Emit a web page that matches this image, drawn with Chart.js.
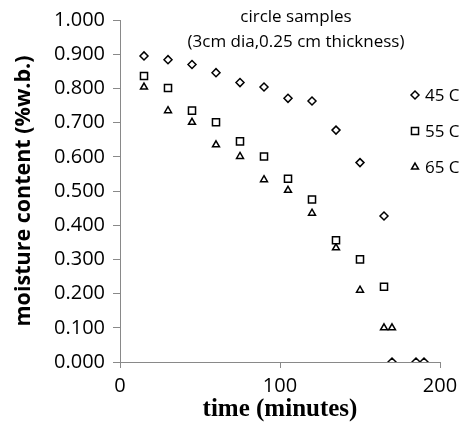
<!DOCTYPE html>
<html>
<head>
<meta charset="utf-8">
<script src="https://cdn.jsdelivr.net/npm/chart.js@4/dist/chart.umd.min.js"></script>
<style>
  html, body { margin: 0; padding: 0; background: #ffffff; }
  #wrap { position: relative; width: 468px; height: 440px; }
</style>
</head>
<body>
<div id="wrap"><canvas id="c" width="468" height="440"></canvas></div>
<script>
// ---- data ----
const seriesLabels = ['45 C', '55 C', '65 C'];
const time45 = [15, 30, 45, 60, 75, 90, 105, 120, 135, 150, 165, 170, 185, 190];
const mc45   = [0.895, 0.884, 0.870, 0.846, 0.817, 0.804, 0.771, 0.763, 0.678, 0.583, 0.427, 0.000, 0.000, 0.000];
const time55 = [15, 30, 45, 60, 75, 90, 105, 120, 135, 150, 165];
const mc55   = [0.836, 0.801, 0.735, 0.701, 0.645, 0.601, 0.536, 0.475, 0.356, 0.300, 0.220];
const time65 = [15, 30, 45, 60, 75, 90, 105, 120, 135, 150, 165, 170];
const mc65   = [0.804, 0.735, 0.701, 0.635, 0.601, 0.533, 0.502, 0.435, 0.334, 0.210, 0.100, 0.100];
const titleLines = ['circle samples', '(3cm dia,0.25 cm thickness)'];
const xAxisTitle = 'time (minutes)';
const yAxisTitle = 'moisture content (%w.b.)';
const xTickRange = [0, 200, 100];   // min, max, step
const yTickRange = [0, 1, 0.1];

const toPts = (xs, ys) => xs.map((x, i) => ({ x: x, y: ys[i] }));

const AXIS = '#898989';
const FONT = "'Open Sans', 'Noto Sans', sans-serif";

function drawMarker(ctx, style, r, x, y) {
  ctx.save();
  ctx.strokeStyle = '#000';
  ctx.fillStyle = '#fff';
  ctx.lineWidth = 1.5;
  if (Chart.helpers && Chart.helpers.drawPoint) {
    Chart.helpers.drawPoint(ctx, { pointStyle: style, radius: r, rotation: 0, borderWidth: 1.5 }, x, y);
  }
  ctx.restore();
}

const overlay = {
  id: 'overlay',
  afterDraw(chart) {
    const ctx = chart.ctx;
    ctx.save();
    ctx.fillStyle = '#000';
    ctx.textBaseline = 'middle';
    // title inside plot area
    ctx.font = "17px " + FONT;
    ctx.textAlign = 'center';
    ctx.fillText(titleLines[0], 296, 17);
    ctx.fillText(titleLines[1], 296, 42);
    // legend
    ctx.textAlign = 'left';
    ctx.font = "17px " + FONT;
    const ys = [95, 131, 167];
    chart.data.datasets.forEach((ds, i) => {
      drawMarker(ctx, ds.pointStyle, ds.pointRadius, 415, ys[i]);
      ctx.fillStyle = '#000';
      ctx.fillText(ds.label, 425, ys[i] + 1);
    });
    ctx.restore();
  }
};

new Chart(document.getElementById('c'), {
  type: 'scatter',
  data: {
    datasets: [
      { label: seriesLabels[0], data: toPts(time45, mc45), pointStyle: 'rectRot', pointRadius: 4,
        borderColor: '#000', backgroundColor: '#fff', borderWidth: 1.5, pointBorderWidth: 1.5 },
      { label: seriesLabels[1], data: toPts(time55, mc55), pointStyle: 'rect', pointRadius: 5,
        borderColor: '#000', backgroundColor: '#fff', borderWidth: 1.5, pointBorderWidth: 1.5 },
      { label: seriesLabels[2], data: toPts(time65, mc65), pointStyle: 'triangle', pointRadius: 4,
        borderColor: '#000', backgroundColor: '#fff', borderWidth: 1.5, pointBorderWidth: 1.5 }
    ]
  },
  options: {
    responsive: false,
    animation: false,
    devicePixelRatio: 1,
    layout: { padding: { top: 19, right: 28, left: 0, bottom: 0 } },
    plugins: {
      legend: { display: false },
      title: { display: false },
      tooltip: { enabled: false }
    },
    scales: {
      x: {
        type: 'linear',
        min: xTickRange[0], max: xTickRange[1],
        ticks: { stepSize: xTickRange[2], color: '#000', font: { family: FONT, size: 20 }, padding: 6, maxRotation: 0 },
        grid: { drawOnChartArea: false, drawTicks: true, tickLength: 6, color: AXIS },
        border: { color: AXIS, width: 1 },
        title: { display: true, text: xAxisTitle, color: '#000',
                 font: { family: "'Liberation Serif', 'Times New Roman', serif", size: 25, weight: 'bold' },
                 padding: { top: 0, bottom: 15 } },
        afterFit(scale) { scale.height = 78; }
      },
      y: {
        type: 'linear',
        min: yTickRange[0], max: yTickRange[1],
        ticks: { stepSize: yTickRange[2], color: '#000', font: { family: FONT, size: 20 }, padding: 8,
                 callback: (v) => Number(v).toFixed(3) },
        grid: { drawOnChartArea: false, drawTicks: true, tickLength: 7, color: AXIS },
        border: { color: AXIS, width: 1 },
        title: { display: true, text: yAxisTitle, color: '#000',
                 font: { family: FONT, size: 21.5, weight: 'bold' },
                 padding: { top: 11, bottom: 0 } },
        afterFit(scale) { scale.width = 120; }
      }
    }
  },
  plugins: [overlay]
});
</script>
</body>
</html>
